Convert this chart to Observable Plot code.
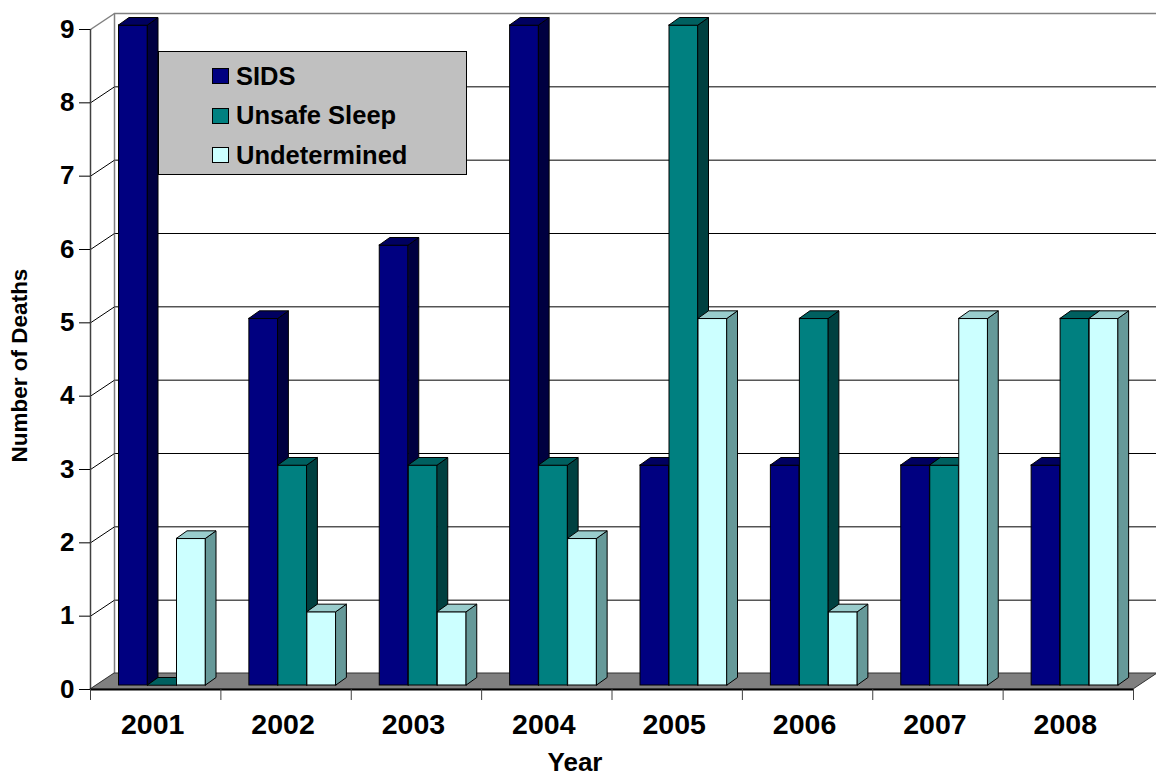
<!DOCTYPE html>
<html>
<head>
<meta charset="utf-8">
<script src="https://cdn.jsdelivr.net/npm/d3@7"></script>
<script src="https://cdn.jsdelivr.net/npm/@observablehq/plot@0.6"></script>
<style>
  body { margin: 0; background: #fff; font-family: Arial, "Liberation Sans", sans-serif; }
  #wrap { position: relative; width: 1156px; height: 777px; }
  .legend {
    position: absolute; left: 158px; top: 51px; width: 309px; height: 124px;
    background: #c0c0c0; border: 1px solid #000; box-sizing: border-box;
  }
  .legend .row {
    position: absolute; left: 53px; height: 26px; display: flex; align-items: center;
    font-weight: bold; font-size: 25.5px; color: #000; white-space: nowrap;
  }
  .legend .sw { width: 17px; height: 16px; border: 1px solid #000; box-sizing: border-box; margin-right: 7px; }
</style>
</head>
<body>
<div id="wrap"></div>
<script>
// Infant sleep-related deaths by year and category
const years = ["2001", "2002", "2003", "2004", "2005", "2006", "2007", "2008"];
const sids = [9, 5, 6, 9, 3, 3, 3, 3];
const unsafeSleep = [0, 3, 3, 3, 9, 5, 3, 5];
const undetermined = [2, 1, 1, 2, 5, 1, 5, 5];
const seriesNames = ["SIDS", "Unsafe Sleep", "Undetermined"];
const yTicks = [0, 1, 2, 3, 4, 5, 6, 7, 8, 9];

// face colours for each series: front, right side, top
const faces = [
  {front: "#000080", side: "#000040", top: "#000060"},
  {front: "#008080", side: "#004040", top: "#006060"},
  {front: "#ccffff", side: "#669999", top: "#99cccc"}
];

// frame layout
const W = 1156, H = 777, mL = 90, mR = 23, mT = 29, mB = 88;
const yMax = 9;
const kx = (W - mL - mR) / years.length;   // pixels per category
const ky = (H - mT - mB) / yMax;           // pixels per death
// oblique depth of the back wall and of each bar, converted to data units
const wallDX = 24 / kx, wallDY = 16 / ky;
const barDX = 10.5 / kx, barDY = 7.5 / ky;
const barInset = 28.5 / kx, barW = 29 / kx;

const seriesValues = [sids, unsafeSleep, undetermined];
const bars = seriesValues.map((vals, s) => vals.map((v, i) => {
  const x1 = i + barInset + s * barW;
  return {key: `${s}-${i}`, series: seriesNames[s], year: years[i], v, x1, x2: x1 + barW};
}));

const sideFaces = bars.map(list => list.flatMap(b => [
  {key: b.key, x: b.x2, y1: 0, y2: b.v},
  {key: b.key, x: b.x2 + barDX, y1: barDY, y2: b.v + barDY}
]));
const topFaces = bars.map(list => list.flatMap(b => [
  {key: b.key, y: b.v, x1: b.x1, x2: b.x2},
  {key: b.key, y: b.v + barDY, x1: b.x1 + barDX, x2: b.x2 + barDX}
]));

const n = years.length;
const floor = [
  {y: 0, x1: 0, x2: n},
  {y: wallDY, x1: wallDX, x2: n + wallDX}
];

const barMarks = bars.flatMap((list, s) => [
  Plot.rect(list, {x1: "x1", x2: "x2", y1: 0, y2: "v", fill: faces[s].front, stroke: "#000", strokeWidth: 1, dy: -4}),
  Plot.areaY(sideFaces[s], {x: "x", y1: "y1", y2: "y2", z: "key", fill: faces[s].side, stroke: "#000", strokeWidth: 1, dy: -4}),
  Plot.areaX(topFaces[s], {y: "y", x1: "x1", x2: "x2", z: "key", fill: faces[s].top, stroke: "#000", strokeWidth: 1, dy: -4})
]);

const chart = Plot.plot({
  width: W, height: H,
  marginLeft: mL, marginRight: mR, marginTop: mT, marginBottom: mB,
  x: {type: "linear", domain: [0, n], axis: null},
  y: {type: "linear", domain: [0, yMax], axis: null},
  style: {fontFamily: "Arial, 'Liberation Sans', sans-serif", background: "#fff", color: "#000", overflow: "visible"},
  marks: [
    // back wall gridlines
    Plot.ruleY(yTicks.filter(t => t > 0 && t < yMax), {y: t => t + wallDY, x1: wallDX, x2: n + wallDX, stroke: "#000", strokeWidth: 1}),
    Plot.ruleY([yMax], {y: t => t + wallDY, x1: wallDX, x2: n + wallDX, stroke: "#808080", strokeWidth: 1.5}),
    Plot.ruleX([wallDX], {y1: wallDY, y2: yMax + wallDY, stroke: "#808080", strokeWidth: 1.5}),
    // side wall gridlines
    Plot.link(yTicks.filter(t => t < yMax), {x1: 0, y1: t => t, x2: wallDX, y2: t => t + wallDY, stroke: "#000", strokeWidth: 1}),
    Plot.link([yMax], {x1: 0, y1: t => t, x2: wallDX, y2: t => t + wallDY, stroke: "#808080", strokeWidth: 1.5}),
    // floor
    Plot.areaX(floor, {y: "y", x1: "x1", x2: "x2", fill: "#808080", stroke: "#333", strokeWidth: 1}),
    ...barMarks,
    // axis lines
    Plot.ruleX([0], {y1: 0, y2: yMax, stroke: "#404040", strokeWidth: 1.5}),
    Plot.ruleY([0], {x1: 0, x2: n, stroke: "#000", strokeWidth: 2}),
    Plot.axisY({ticks: yTicks, tickSize: 11, tickPadding: 5, fontSize: 26, fontWeight: "bold", label: null, stroke: "#000"}),
    Plot.axisX({ticks: d3.range(n + 1), tickSize: 11, tickFormat: () => "", label: null, stroke: "#404040"}),
    // year labels centred in each category
    Plot.text(years, {x: (d, i) => i + 0.5, y: 0, dx: -3, dy: 35, fontSize: 28.5, fontWeight: "bold", fill: "#000"}),
    Plot.text(["Year"], {frameAnchor: "bottom", textAnchor: "middle", lineAnchor: "middle", dx: -37, dy: 73, fontSize: 26, fontWeight: "bold", fill: "#000"}),
    Plot.text(["Number of Deaths"], {frameAnchor: "left", textAnchor: "middle", lineAnchor: "middle", rotate: -90, dx: -71, dy: 6, fontSize: 22.5, fontWeight: "bold", fill: "#000"})
  ]
});

const wrap = document.getElementById("wrap");
wrap.appendChild(chart);

// legend box inside the plot area
const legend = document.createElement("div");
legend.className = "legend";
const rowTops = [11, 50.5, 90];
seriesNames.forEach((name, s) => {
  const row = document.createElement("div");
  row.className = "row";
  row.style.top = rowTops[s] + "px";
  const sw = document.createElement("span");
  sw.className = "sw";
  sw.style.background = faces[s].front;
  row.appendChild(sw);
  row.appendChild(document.createTextNode(name));
  legend.appendChild(row);
});
wrap.appendChild(legend);
</script>
</body>
</html>
